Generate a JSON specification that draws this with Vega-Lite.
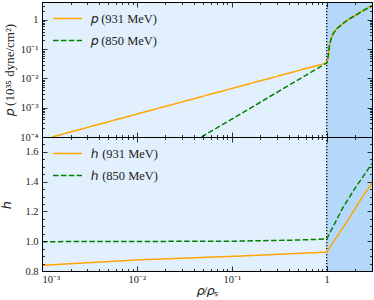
{
  "$schema": "https://vega.github.io/schema/vega-lite/v6.json",
  "padding": {"left": 0, "top": 1, "right": 1, "bottom": 0},
  "spacing": 0,
  "bounds": "flush",
  "config": {
    "view": {"stroke": null},
    "font": "'Liberation Serif', serif",
    "axis": {"domain": true, "domainColor": "black", "domainWidth": 1, "grid": false, "labelFont": "'Liberation Serif', serif", "labelFontSize": 10.5, "labelColor": "#222", "titleFont": "'Liberation Serif', serif", "titleFontSize": 13, "titleFontWeight": "normal", "titleColor": "#222", "tickColor": "black", "tickWidth": 0.8},
    "legend": {"labelFont": "'Liberation Serif', serif", "labelFontSize": 12.5, "labelColor": "#222"}
  },
  "resolve": {"scale": {"color": "independent", "strokeDash": "independent"}},
  "datasets": {
    "bands": [{"x": 0.001, "x2": 1, "region": "a"}, {"x": 1, "x2": 3, "region": "b"}],
    "vline": [{"x": 1}],
    "p": [
      {"series": "𝑝 (931 MeV)", "x": 0.00127, "p": 0.0001},
      {"series": "𝑝 (931 MeV)", "x": 1, "p": 0.034},
      {"series": "𝑝 (931 MeV)", "x": 1.02, "p": 0.04},
      {"series": "𝑝 (931 MeV)", "x": 1.042, "p": 0.067},
      {"series": "𝑝 (931 MeV)", "x": 1.067, "p": 0.13},
      {"series": "𝑝 (931 MeV)", "x": 1.11, "p": 0.22},
      {"series": "𝑝 (931 MeV)", "x": 1.157, "p": 0.32},
      {"series": "𝑝 (931 MeV)", "x": 1.256, "p": 0.48},
      {"series": "𝑝 (931 MeV)", "x": 1.42, "p": 0.67},
      {"series": "𝑝 (931 MeV)", "x": 1.66, "p": 1.0},
      {"series": "𝑝 (931 MeV)", "x": 1.96, "p": 1.37},
      {"series": "𝑝 (931 MeV)", "x": 2.39, "p": 2.03},
      {"series": "𝑝 (931 MeV)", "x": 3, "p": 3.05},
      {"series": "𝑝 (850 MeV)", "x": 0.048, "p": 0.0001},
      {"series": "𝑝 (850 MeV)", "x": 1, "p": 0.034},
      {"series": "𝑝 (850 MeV)", "x": 1.02, "p": 0.04},
      {"series": "𝑝 (850 MeV)", "x": 1.042, "p": 0.067},
      {"series": "𝑝 (850 MeV)", "x": 1.067, "p": 0.13},
      {"series": "𝑝 (850 MeV)", "x": 1.11, "p": 0.22},
      {"series": "𝑝 (850 MeV)", "x": 1.157, "p": 0.32},
      {"series": "𝑝 (850 MeV)", "x": 1.256, "p": 0.48},
      {"series": "𝑝 (850 MeV)", "x": 1.42, "p": 0.67},
      {"series": "𝑝 (850 MeV)", "x": 1.66, "p": 1.0},
      {"series": "𝑝 (850 MeV)", "x": 1.96, "p": 1.37},
      {"series": "𝑝 (850 MeV)", "x": 2.39, "p": 2.03},
      {"series": "𝑝 (850 MeV)", "x": 3, "p": 3.05}
    ],
    "h": [
      {"series": "ℎ (931 MeV)", "x": 0.001, "h": 0.838},
      {"series": "ℎ (931 MeV)", "x": 0.0105, "h": 0.875},
      {"series": "ℎ (931 MeV)", "x": 0.118, "h": 0.9},
      {"series": "ℎ (931 MeV)", "x": 1, "h": 0.927},
      {"series": "ℎ (931 MeV)", "x": 1.256, "h": 1.022},
      {"series": "ℎ (931 MeV)", "x": 1.73, "h": 1.155},
      {"series": "ℎ (931 MeV)", "x": 2.39, "h": 1.3},
      {"series": "ℎ (931 MeV)", "x": 3, "h": 1.389},
      {"series": "ℎ (850 MeV)", "x": 0.001, "h": 0.997},
      {"series": "ℎ (850 MeV)", "x": 0.1, "h": 1.0},
      {"series": "ℎ (850 MeV)", "x": 0.5, "h": 1.008},
      {"series": "ℎ (850 MeV)", "x": 1, "h": 1.015},
      {"series": "ℎ (850 MeV)", "x": 1.47, "h": 1.222},
      {"series": "ℎ (850 MeV)", "x": 2.04, "h": 1.367},
      {"series": "ℎ (850 MeV)", "x": 3, "h": 1.522}
    ]
  },
  "vconcat": [
    {
      "width": 330,
      "height": 135,
      "resolve": {"axis": {"x": "independent", "y": "independent"}},
      "layer": [
        {
          "data": {"name": "bands"},
          "mark": {"type": "rect"},
          "encoding": {
            "x": {"field": "x", "type": "quantitative", "scale": {"type": "log", "domain": [0.001, 3], "nice": false},
                  "axis": {"orient": "bottom", "zindex": 1, "values": [0.001, 0.01, 0.1, 1], "tickSize": -5, "labels": false, "title": null}},
            "x2": {"field": "x2"},
            "color": {"condition": {"test": "datum.region == 'b'", "value": "#b3d8fa"}, "value": "#e2f0fd"}
          }
        },
        {
          "data": {"name": "vline"},
          "mark": {"type": "rule", "color": "black", "strokeWidth": 1.3, "strokeDash": [1.3, 1.7]},
          "encoding": {"x": {"field": "x", "type": "quantitative", "axis": null}}
        },
        {
          "data": {"name": "p"},
          "mark": {"type": "line", "strokeWidth": 1.5, "clip": true},
          "encoding": {
            "x": {"field": "x", "type": "quantitative",
                  "axis": {"orient": "bottom", "zindex": 1, "values": [0.002,0.003,0.004,0.005,0.006,0.007,0.008,0.009,0.02,0.03,0.04,0.05,0.06,0.07,0.08,0.09,0.2,0.3,0.4,0.5,0.6,0.7,0.8,0.9,2,3], "tickSize": -2.5, "labels": false, "title": null}},
            "y": {"field": "p", "type": "quantitative", "scale": {"type": "log", "domain": [0.0001, 4.1], "nice": false},
                  "axis": {"orient": "left", "zindex": 1, "values": [0.0001, 0.001, 0.01, 0.1, 1], "tickSize": -5, "labelPadding": 9,
                           "labelExpr": "datum.value >= 1 ? '1' : '10' + ['⁰','⁻¹','⁻²','⁻³','⁻⁴'][round(-log(datum.value)/LN10)]",
                           "title": "𝑝 (10³⁵ dyne/cm²)", "titlePadding": 3}},
            "color": {"field": "series", "type": "nominal", "sort": null,
                      "scale": {"domain": ["𝑝 (931 MeV)", "𝑝 (850 MeV)"], "range": ["#ffa500", "#008000"]},
                      "legend": {"orient": "none", "legendX": 10, "legendY": 1, "title": null, "symbolType": "stroke", "symbolSize": 841, "symbolStrokeWidth": 1.5, "rowPadding": -10, "labelOffset": 8, "padding": 0}},
            "strokeDash": {"field": "series", "type": "nominal", "sort": null,
                           "scale": {"domain": ["𝑝 (931 MeV)", "𝑝 (850 MeV)"], "range": [[1, 0], [5.5, 2.4]]},
                           "legend": {"orient": "none", "legendX": 10, "legendY": 1, "title": null, "symbolType": "stroke", "symbolSize": 841, "symbolStrokeWidth": 1.5, "rowPadding": -10, "labelOffset": 8, "padding": 0}}
          }
        },
        {
          "data": {"name": "p"},
          "mark": {"type": "line", "opacity": 0, "strokeWidth": 0, "clip": true},
          "encoding": {
            "detail": {"field": "series"},
            "x": {"field": "x", "type": "quantitative", "axis": {"orient": "top", "zindex": 1, "values": [0.001, 0.01, 0.1, 1], "tickSize": -5, "labels": false, "title": null}},
            "y": {"field": "p", "type": "quantitative", "axis": {"orient": "left", "zindex": 1, "values": [0.0002,0.0003,0.0004,0.0005,0.0006,0.0007,0.0008,0.0009,0.002,0.003,0.004,0.005,0.006,0.007,0.008,0.009,0.02,0.03,0.04,0.05,0.06,0.07,0.08,0.09,0.2,0.3,0.4,0.5,0.6,0.7,0.8,0.9,2,3,4], "tickSize": -2.5, "labels": false, "title": null}}
          }
        },
        {
          "data": {"name": "p"},
          "mark": {"type": "line", "opacity": 0, "strokeWidth": 0, "clip": true},
          "encoding": {
            "detail": {"field": "series"},
            "x": {"field": "x", "type": "quantitative", "axis": {"orient": "top", "zindex": 1, "values": [0.002,0.003,0.004,0.005,0.006,0.007,0.008,0.009,0.02,0.03,0.04,0.05,0.06,0.07,0.08,0.09,0.2,0.3,0.4,0.5,0.6,0.7,0.8,0.9,2,3], "tickSize": -2.5, "labels": false, "title": null}},
            "y": {"field": "p", "type": "quantitative", "axis": {"orient": "right", "zindex": 1, "values": [0.0001, 0.001, 0.01, 0.1, 1], "tickSize": -5, "labels": false, "title": null}}
          }
        },
        {
          "data": {"name": "p"},
          "mark": {"type": "line", "opacity": 0, "strokeWidth": 0, "clip": true},
          "encoding": {
            "detail": {"field": "series"},
            "x": {"field": "x", "type": "quantitative", "axis": null},
            "y": {"field": "p", "type": "quantitative", "axis": {"orient": "right", "zindex": 1, "values": [0.0002,0.0003,0.0004,0.0005,0.0006,0.0007,0.0008,0.0009,0.002,0.003,0.004,0.005,0.006,0.007,0.008,0.009,0.02,0.03,0.04,0.05,0.06,0.07,0.08,0.09,0.2,0.3,0.4,0.5,0.6,0.7,0.8,0.9,2,3,4], "tickSize": -2.5, "labels": false, "title": null}}
          }
        }
      ]
    },
    {
      "width": 330,
      "height": 134,
      "resolve": {"axis": {"x": "independent", "y": "independent"}},
      "layer": [
        {
          "data": {"name": "bands"},
          "mark": {"type": "rect"},
          "encoding": {
            "x": {"field": "x", "type": "quantitative", "scale": {"type": "log", "domain": [0.001, 3], "nice": false},
                  "axis": {"orient": "bottom", "zindex": 1, "values": [0.001, 0.01, 0.1, 1], "tickSize": -5, "labelPadding": 8,
                           "labelExpr": "datum.value >= 1 ? '1' : '10' + ['⁰','⁻¹','⁻²','⁻³','⁻⁴'][round(-log(datum.value)/LN10)]",
                           "title": "𝜌/𝜌ₛ", "titlePadding": 0}},
            "x2": {"field": "x2"},
            "color": {"condition": {"test": "datum.region == 'b'", "value": "#b3d8fa"}, "value": "#e2f0fd"}
          }
        },
        {
          "data": {"name": "vline"},
          "mark": {"type": "rule", "color": "black", "strokeWidth": 1.3, "strokeDash": [1.3, 1.7]},
          "encoding": {"x": {"field": "x", "type": "quantitative", "axis": null}}
        },
        {
          "data": {"name": "h"},
          "mark": {"type": "line", "strokeWidth": 1.5, "clip": true},
          "encoding": {
            "x": {"field": "x", "type": "quantitative",
                  "axis": {"orient": "bottom", "zindex": 1, "values": [0.002,0.003,0.004,0.005,0.006,0.007,0.008,0.009,0.02,0.03,0.04,0.05,0.06,0.07,0.08,0.09,0.2,0.3,0.4,0.5,0.6,0.7,0.8,0.9,2,3], "tickSize": -2.5, "labels": false, "title": null}},
            "y": {"field": "h", "type": "quantitative", "scale": {"domain": [0.8, 1.7], "nice": false, "zero": false},
                  "axis": {"orient": "left", "zindex": 1, "values": [0.8, 1.0, 1.2, 1.4, 1.6], "format": ".1f", "tickSize": -5, "labelPadding": 9,
                           "title": "ℎ", "titlePadding": 11}},
            "color": {"field": "series", "type": "nominal", "sort": null,
                      "scale": {"domain": ["ℎ (931 MeV)", "ℎ (850 MeV)"], "range": ["#ffa500", "#008000"]},
                      "legend": {"orient": "none", "legendX": 10, "legendY": 1, "title": null, "symbolType": "stroke", "symbolSize": 841, "symbolStrokeWidth": 1.5, "rowPadding": -10, "labelOffset": 8, "padding": 0}},
            "strokeDash": {"field": "series", "type": "nominal", "sort": null,
                           "scale": {"domain": ["ℎ (931 MeV)", "ℎ (850 MeV)"], "range": [[1, 0], [5.5, 2.4]]},
                           "legend": {"orient": "none", "legendX": 10, "legendY": 1, "title": null, "symbolType": "stroke", "symbolSize": 841, "symbolStrokeWidth": 1.5, "rowPadding": -10, "labelOffset": 8, "padding": 0}}
          }
        },
        {
          "data": {"name": "h"},
          "mark": {"type": "line", "opacity": 0, "strokeWidth": 0, "clip": true},
          "encoding": {
            "detail": {"field": "series"},
            "x": {"field": "x", "type": "quantitative", "axis": {"orient": "top", "zindex": 1, "values": [0.001, 0.01, 0.1, 1], "tickSize": -5, "labels": false, "title": null}},
            "y": {"field": "h", "type": "quantitative", "axis": {"orient": "left", "zindex": 1, "values": [0.85,0.9,0.95,1.05,1.1,1.15,1.25,1.3,1.35,1.45,1.5,1.55,1.65], "tickSize": -2.5, "labels": false, "title": null}}
          }
        },
        {
          "data": {"name": "h"},
          "mark": {"type": "line", "opacity": 0, "strokeWidth": 0, "clip": true},
          "encoding": {
            "detail": {"field": "series"},
            "x": {"field": "x", "type": "quantitative", "axis": {"orient": "top", "zindex": 1, "values": [0.002,0.003,0.004,0.005,0.006,0.007,0.008,0.009,0.02,0.03,0.04,0.05,0.06,0.07,0.08,0.09,0.2,0.3,0.4,0.5,0.6,0.7,0.8,0.9,2,3], "tickSize": -2.5, "labels": false, "title": null}},
            "y": {"field": "h", "type": "quantitative", "axis": {"orient": "right", "zindex": 1, "values": [0.8, 1.0, 1.2, 1.4, 1.6], "tickSize": -5, "labels": false, "title": null}}
          }
        },
        {
          "data": {"name": "h"},
          "mark": {"type": "line", "opacity": 0, "strokeWidth": 0, "clip": true},
          "encoding": {
            "detail": {"field": "series"},
            "x": {"field": "x", "type": "quantitative", "axis": null},
            "y": {"field": "h", "type": "quantitative", "axis": {"orient": "right", "zindex": 1, "values": [0.85,0.9,0.95,1.05,1.1,1.15,1.25,1.3,1.35,1.45,1.5,1.55,1.65], "tickSize": -2.5, "labels": false, "title": null}}
          }
        }
      ]
    }
  ]
}
